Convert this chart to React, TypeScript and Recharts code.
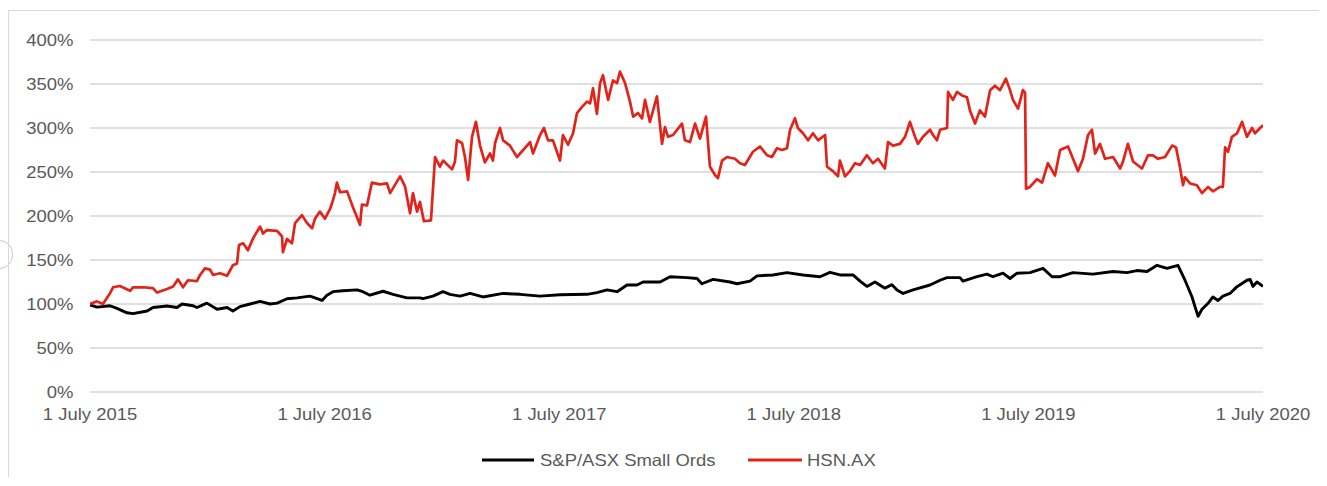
import React from 'react';
import { LineChart, Line, XAxis, YAxis, CartesianGrid } from 'recharts';

// x: months since 1 July 2015, y: indexed performance in %
const smallOrdsPoints: [number, number][] = [
  [0, 98.9], [0.36, 96.5], [1.02, 98], [1.38, 95], [1.89, 90], [2.2, 89], [2.92, 92], [3.22, 96],
  [3.94, 97.7], [4.45, 96], [4.71, 100], [5.27, 98], [5.47, 96], [5.98, 101], [6.5, 94], [7.01, 96],
  [7.31, 92], [7.67, 97], [8.18, 100], [8.7, 103], [9.21, 100], [9.57, 101], [10.08, 106], [10.59, 107],
  [11.25, 109], [11.87, 104], [12.12, 110], [12.43, 114], [12.94, 115], [13.66, 116], [13.96, 114],
  [14.32, 110], [14.99, 114.5], [15.5, 111], [16.21, 107], [16.88, 107], [17.03, 106], [17.54, 109],
  [18.06, 114], [18.41, 111], [18.93, 109], [19.44, 112], [20.1, 108], [21.13, 112], [22.0, 111],
  [23.02, 109], [24.04, 110.5], [25.42, 111], [25.93, 113], [26.45, 116], [26.96, 114], [27.47, 121.6],
  [27.98, 121.6], [28.29, 125], [29.16, 125], [29.67, 131], [30.54, 130], [31.05, 129], [31.3, 123],
  [31.87, 128], [32.74, 125], [33.09, 123], [33.76, 126], [34.12, 132], [34.94, 133], [35.65, 135.6],
  [36.47, 133], [37.34, 131], [37.85, 136], [38.36, 133], [39.03, 133], [39.39, 126], [39.74, 120],
  [40.15, 125], [40.66, 118], [41.02, 122], [41.28, 116], [41.59, 112], [42.1, 116], [42.97, 121.6],
  [43.48, 127], [43.84, 130], [44.5, 130], [44.65, 126], [45.37, 131], [45.88, 134], [46.19, 131],
  [46.7, 135], [47.06, 129], [47.42, 135], [48.08, 135.6], [48.75, 140.5], [49.21, 131], [49.62, 131],
  [50.28, 135.6], [51.3, 134], [52.33, 137], [53.04, 135.6], [53.55, 138], [54.07, 137], [54.58, 144],
  [55.09, 140.5], [55.65, 144], [56.01, 127], [56.37, 108], [56.52, 97], [56.68, 86], [56.88, 94],
  [57.19, 100.8], [57.44, 108], [57.7, 104], [57.95, 109], [58.31, 112], [58.67, 119.7], [59.18, 127],
  [59.34, 128], [59.49, 120], [59.69, 125], [60, 120],
];

const hsnPoints: [number, number][] = [
  [0, 100], [0.36, 103], [0.66, 100], [1.02, 112], [1.18, 119], [1.53, 120.5], [2.05, 115], [2.2, 119],
  [2.71, 119], [3.22, 118], [3.43, 113], [3.94, 117], [4.25, 120], [4.5, 128], [4.76, 119], [5.01, 127],
  [5.47, 126], [5.63, 133], [5.88, 140.5], [6.14, 139], [6.29, 133], [6.65, 135], [7.01, 132], [7.31, 144],
  [7.52, 146], [7.62, 167], [7.83, 169], [8.08, 161], [8.34, 174.6], [8.7, 188], [8.85, 180], [9.05, 184],
  [9.57, 183], [9.82, 177], [9.87, 159], [10.08, 174], [10.33, 169], [10.49, 192], [10.84, 201], [11.1, 192],
  [11.36, 186], [11.51, 197], [11.76, 205], [12.02, 197], [12.28, 208], [12.43, 218], [12.53, 226],
  [12.63, 238], [12.79, 227], [13.15, 228], [13.45, 210], [13.81, 190], [13.91, 213], [14.17, 212],
  [14.42, 238], [14.83, 236], [15.19, 237], [15.35, 226], [15.86, 245], [16.11, 234], [16.37, 203],
  [16.52, 226], [16.73, 205], [16.88, 216], [17.08, 194], [17.44, 195], [17.65, 267], [17.9, 256],
  [18.06, 263], [18.52, 253], [18.67, 262], [18.77, 286], [19.03, 283], [19.18, 267], [19.34, 241],
  [19.54, 290], [19.74, 307], [19.95, 280], [20.2, 261], [20.46, 271], [20.61, 263], [20.72, 283],
  [20.97, 300], [21.13, 286], [21.48, 280], [21.84, 267], [22.0, 271], [22.51, 284], [22.66, 271],
  [23.02, 292], [23.22, 300], [23.43, 286], [23.68, 286], [24.04, 263], [24.19, 292], [24.45, 281],
  [24.71, 294], [24.91, 317], [25.17, 324], [25.42, 330], [25.58, 328], [25.73, 345], [25.93, 316],
  [26.09, 351], [26.24, 360], [26.5, 332], [26.75, 354], [26.96, 351], [27.11, 364], [27.37, 351],
  [27.62, 330], [27.78, 313], [28.03, 317], [28.24, 311], [28.39, 332], [28.64, 307], [29.0, 336],
  [29.26, 282], [29.41, 301], [29.57, 290], [29.82, 292], [30.28, 305], [30.43, 286], [30.69, 284],
  [30.95, 305], [31.2, 288], [31.51, 313], [31.71, 256], [31.97, 246.6], [32.12, 243], [32.33, 263],
  [32.58, 267], [32.99, 265], [33.25, 260], [33.5, 258], [33.91, 273], [34.27, 279], [34.63, 269],
  [34.88, 267], [35.14, 277], [35.4, 275], [35.65, 277], [35.81, 298], [36.06, 311], [36.21, 300],
  [36.47, 294], [36.73, 286], [36.98, 294], [37.24, 286], [37.6, 292], [37.7, 256], [38.0, 251],
  [38.26, 245], [38.36, 263], [38.62, 245], [38.87, 251], [39.13, 260], [39.39, 258], [39.74, 269],
  [40.05, 260], [40.31, 265], [40.66, 254], [40.82, 284], [41.07, 280], [41.43, 282], [41.69, 290],
  [41.94, 307], [42.2, 290], [42.35, 282], [42.61, 290], [42.97, 298], [43.12, 292], [43.32, 286],
  [43.48, 298], [43.84, 300], [43.89, 341], [44.14, 332], [44.35, 341], [44.6, 337], [44.86, 335],
  [45.01, 320], [45.27, 305], [45.52, 320], [45.78, 313], [46.04, 343], [46.29, 348], [46.55, 343],
  [46.85, 356], [47.06, 343], [47.21, 332], [47.47, 322], [47.72, 343], [47.83, 340], [47.88, 231],
  [48.08, 233], [48.44, 242], [48.7, 238], [49.0, 260], [49.36, 246], [49.62, 275], [50.03, 279],
  [50.28, 265], [50.54, 251], [50.79, 265], [51.05, 292], [51.25, 298], [51.41, 271], [51.66, 282],
  [51.92, 265], [52.33, 267], [52.69, 254], [52.84, 262], [53.09, 282], [53.35, 262], [53.81, 254],
  [54.12, 269], [54.37, 269], [54.63, 265], [54.99, 267], [55.35, 280], [55.55, 278], [55.75, 256],
  [55.91, 235], [56.01, 244], [56.27, 237], [56.62, 235], [56.88, 226], [57.19, 233], [57.44, 228],
  [57.8, 233], [57.95, 233], [58.06, 278], [58.21, 273], [58.41, 290], [58.67, 294], [58.93, 307],
  [59.18, 290], [59.44, 300], [59.59, 294], [59.85, 300], [60, 303],
];

const xTicks = [0, 12, 24, 36, 48, 60];
const xTickLabels = ['1 July 2015', '1 July 2016', '1 July 2017', '1 July 2018', '1 July 2019', '1 July 2020'];
const yTicks = [0, 50, 100, 150, 200, 250, 300, 350, 400];

const seriesNames = ['S&P/ASX Small Ords', 'HSN.AX'];
const seriesColors = ['#000000', '#E2231A'];

const smallOrdsData = smallOrdsPoints.map(([m, v]) => ({ m, v }));
const hsnData = hsnPoints.map(([m, v]) => ({ m, v }));

const FONT = '"Liberation Sans", Arial, sans-serif';
const TEXT_COLOR = '#595959';
const FS = 16.5;
const SX = 1.12;

const XTick = (props: any) => {
  const { x, y, payload } = props;
  const idx = xTicks.indexOf(payload.value);
  return (
    <g transform={`translate(${x},${y}) scale(${SX},1)`}>
      <text x={0} y={0} dy="0.71em" textAnchor="middle" fill={TEXT_COLOR} fontSize={FS} fontFamily={FONT}>
        {idx >= 0 ? xTickLabels[idx] : ''}
      </text>
    </g>
  );
};

const YTick = (props: any) => {
  const { x, y, payload } = props;
  return (
    <g transform={`translate(${x},${y}) scale(${SX},1)`}>
      <text x={0} y={0} dy="0.355em" textAnchor="end" fill={TEXT_COLOR} fontSize={FS} fontFamily={FONT}>
        {`${payload.value}%`}
      </text>
    </g>
  );
};

export default function App() {
  return (
    <div>
      <div
        style={{
          position: 'absolute',
          left: -14,
          top: 240,
          width: 25,
          height: 27,
          border: '1.5px solid #c9c9c9',
          borderRadius: 14,
        }}
      />
      <div
        style={{
          position: 'relative',
          marginTop: 2,
          width: 1318,
          height: 466,
          borderLeft: '1px solid #d9d9d9',
          borderTop: '1px solid #d9d9d9',
          overflow: 'hidden',
        }}
      >
        <LineChart width={1310} height={460} margin={{ top: 29, right: 56, bottom: 49, left: 11 }}>
          <CartesianGrid horizontal vertical={false} stroke="#d6d6d6" strokeWidth={1.3} />
          <XAxis
            type="number"
            dataKey="m"
            domain={[0, 60]}
            ticks={xTicks}
            interval={0}
            axisLine={false}
            tickLine={false}
            tickSize={0}
            tickMargin={16.5}
            height={30}
            tick={<XTick />}
            allowDataOverflow
          />
          <YAxis
            type="number"
            dataKey="v"
            domain={[0, 400]}
            ticks={yTicks}
            interval={0}
            axisLine={false}
            tickLine={false}
            tickSize={0}
            tickMargin={16.5}
            width={70}
            tick={<YTick />}
          />
          <Line
            data={smallOrdsData}
            dataKey="v"
            name={seriesNames[0]}
            type="linear"
            stroke={seriesColors[0]}
            strokeWidth={2.9}
            strokeLinejoin="round"
            dot={false}
            isAnimationActive={false}
          />
          <Line
            data={hsnData}
            dataKey="v"
            name={seriesNames[1]}
            type="linear"
            stroke={seriesColors[1]}
            strokeWidth={2.7}
            strokeLinejoin="round"
            dot={false}
            isAnimationActive={false}
          />
        </LineChart>
        <svg width={1310} height={40} style={{ position: 'absolute', left: 0, top: 430 }}>
          <line x1={473} x2={525} y1={19} y2={19} stroke={seriesColors[0]} strokeWidth={3} />
          <g transform={`translate(531,19) scale(${SX},1)`}>
            <text x={0} y={0} dy="0.355em" fill={TEXT_COLOR} fontSize={FS} fontFamily={FONT}>
              {seriesNames[0]}
            </text>
          </g>
          <line x1={739} x2={793} y1={19} y2={19} stroke={seriesColors[1]} strokeWidth={3} />
          <g transform={`translate(798,19) scale(${SX},1)`}>
            <text x={0} y={0} dy="0.355em" fill={TEXT_COLOR} fontSize={FS} fontFamily={FONT}>
              {seriesNames[1]}
            </text>
          </g>
        </svg>
      </div>
    </div>
  );
}
